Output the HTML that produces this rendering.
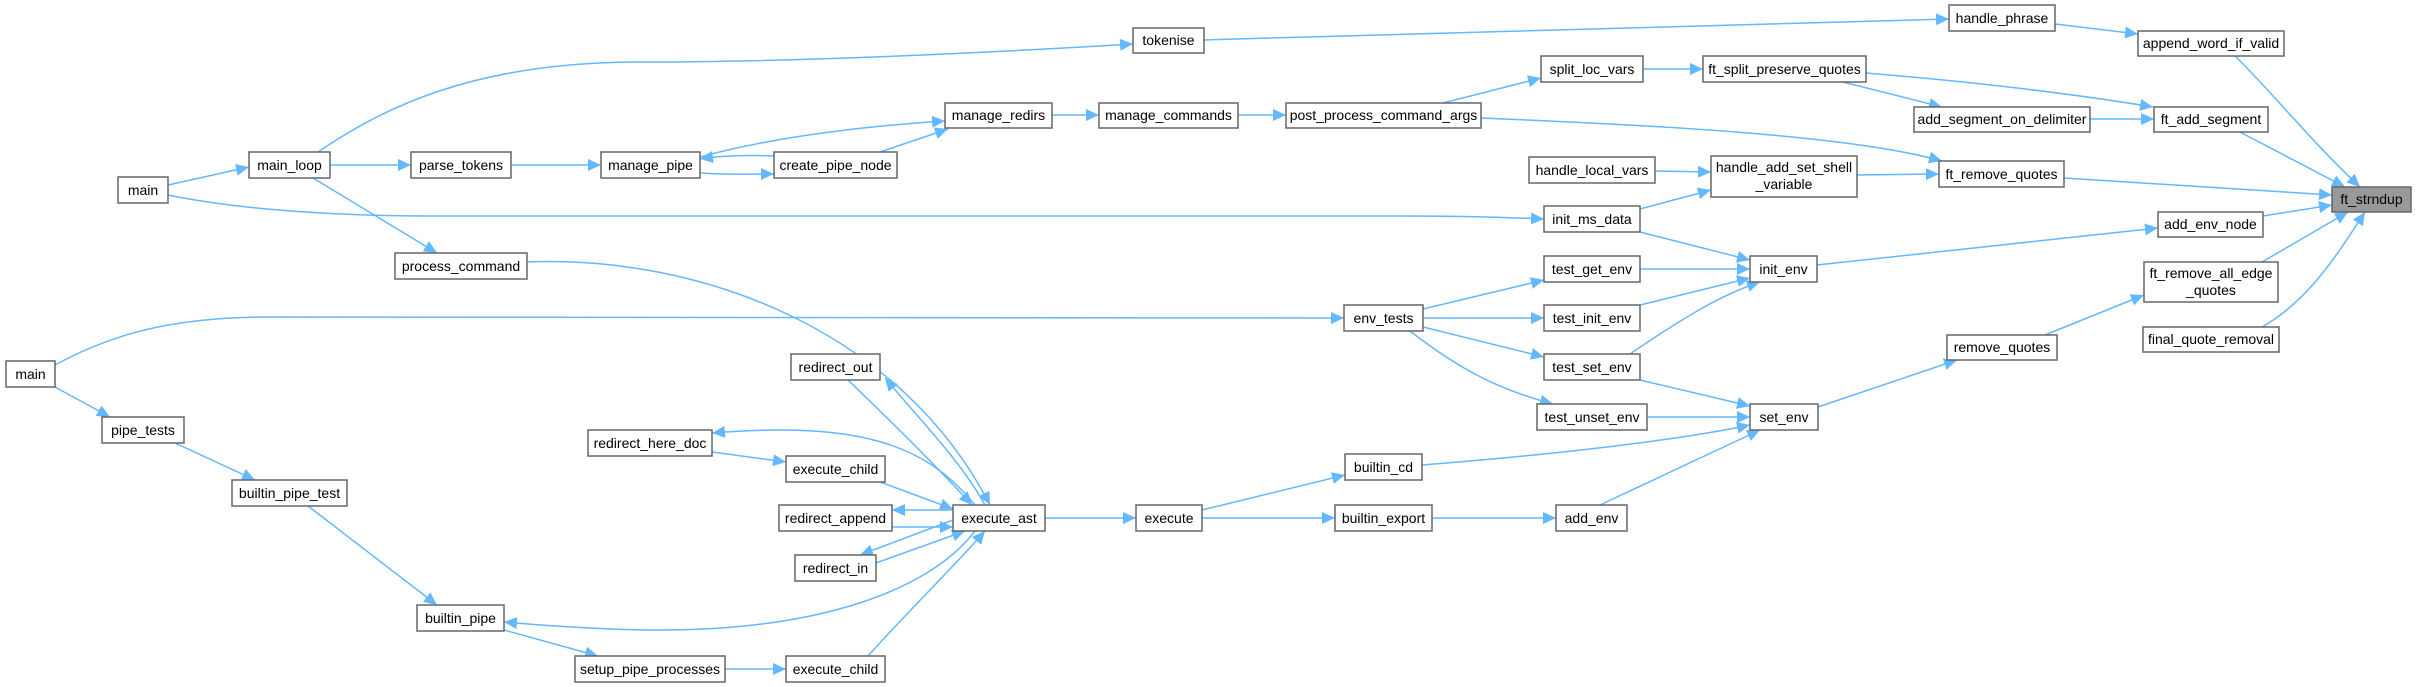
<!DOCTYPE html>
<html><head><meta charset="utf-8"><style>
html,body{margin:0;padding:0;background:#fff;}
svg{display:block;}
text{font-family:"Liberation Sans",Arial,sans-serif;font-size:14px;fill:#000;}
.n{fill:#fff;stroke:#666;stroke-width:1.5;}
.e{fill:none;stroke:#63b8ff;stroke-width:1.5;}
</style></head><body>
<svg width="2417" height="687" viewBox="0 0 2417 687" xmlns="http://www.w3.org/2000/svg">
<defs><marker id="a" markerUnits="userSpaceOnUse" markerWidth="14" markerHeight="12" refX="13" refY="6" orient="auto"><path d="M0,0 L13,6 L0,12 z" fill="#63b8ff"/></marker></defs>
<g class="e" marker-end="url(#a)">
<path d="M168,185 L249,167"/>
<path d="M168,195 C250,212 360,216 430,216 L1400,216 C1480,216 1520,218 1544,219"/>
<path d="M330,165 L411,165"/>
<path d="M318,152 C380,110 470,62 640,62 C800,62 1000,52 1133,44"/>
<path d="M313,178 L437,253"/>
<path d="M511,165 L601,165"/>
<path d="M700,173 C730,175 750,174 774,174"/>
<path d="M774,156 C750,155 725,155 700,159"/>
<path d="M700,157 C780,135 880,125 945,121"/>
<path d="M880,152 L948,129"/>
<path d="M1052,115 L1099,115"/>
<path d="M1238,115 L1286,115"/>
<path d="M1443,103 L1541,78"/>
<path d="M1481,118 C1650,125 1850,135 1942,161"/>
<path d="M1204,40 C1500,30 1800,22 1949,19"/>
<path d="M2055,24 L2138,34"/>
<path d="M2235,56 C2270,90 2310,140 2360,187"/>
<path d="M1643,69 L1703,69"/>
<path d="M1843,82 L1942,107"/>
<path d="M1866,73 C1950,80 2050,90 2153,107"/>
<path d="M2090,119 L2154,119"/>
<path d="M2240,132 L2345,187"/>
<path d="M1655,171 L1711,172"/>
<path d="M1640,209 L1711,190"/>
<path d="M1857,175 L1939,174"/>
<path d="M2064,178 L2332,195"/>
<path d="M1640,232 L1750,260"/>
<path d="M1640,269 L1750,269"/>
<path d="M1640,305 L1750,278"/>
<path d="M1630,354 C1680,320 1720,295 1760,282"/>
<path d="M1817,265 L2158,228"/>
<path d="M2263,216 L2332,205"/>
<path d="M2262,262 L2348,212"/>
<path d="M2262,327 C2310,300 2340,250 2365,212"/>
<path d="M2045,335 L2144,295"/>
<path d="M1818,407 L1957,360"/>
<path d="M1640,380 L1750,406"/>
<path d="M1647,417 L1750,417"/>
<path d="M1422,465 C1550,455 1680,440 1750,425"/>
<path d="M1600,505 L1760,430"/>
<path d="M1423,309 L1544,280"/>
<path d="M1423,318 L1544,318"/>
<path d="M1423,327 L1544,357"/>
<path d="M1410,331 C1460,370 1500,390 1553,404"/>
<path d="M55,365 C110,335 170,317 270,317 L1344,318"/>
<path d="M55,387 L110,417"/>
<path d="M175,443 L255,480"/>
<path d="M308,506 L437,605"/>
<path d="M504,630 L598,656"/>
<path d="M725,669 L786,669"/>
<path d="M868,656 C900,620 960,560 985,531"/>
<path d="M975,531 C930,590 820,630 660,630 C600,630 540,625 504,622"/>
<path d="M527,262 C700,255 900,330 990,505"/>
<path d="M848,380 C900,430 940,470 972,505"/>
<path d="M985,505 C960,460 920,420 885,378"/>
<path d="M975,505 C930,450 870,420 712,433"/>
<path d="M712,452 L786,462"/>
<path d="M880,482 L953,509"/>
<path d="M953,510 L892,510"/>
<path d="M892,527 L953,527"/>
<path d="M953,520 L860,555"/>
<path d="M876,563 L965,531"/>
<path d="M1045,518 L1136,518"/>
<path d="M1202,510 L1345,475"/>
<path d="M1202,518 L1335,518"/>
<path d="M1432,518 L1556,518"/>
</g>
<g>
<rect class="n" x="118" y="177" width="50" height="26"/><text x="143" y="195" text-anchor="middle">main</text>
<rect class="n" x="249" y="152" width="81" height="26"/><text x="289.5" y="170" text-anchor="middle">main_loop</text>
<rect class="n" x="411" y="152" width="100" height="26"/><text x="461" y="170" text-anchor="middle">parse_tokens</text>
<rect class="n" x="601" y="152" width="99" height="26"/><text x="650.5" y="170" text-anchor="middle">manage_pipe</text>
<rect class="n" x="395" y="253" width="132" height="26"/><text x="461" y="271" text-anchor="middle">process_command</text>
<rect class="n" x="774" y="152" width="123" height="26"/><text x="835.5" y="170" text-anchor="middle">create_pipe_node</text>
<rect class="n" x="1133" y="28" width="71" height="25"/><text x="1168.5" y="45" text-anchor="middle">tokenise</text>
<rect class="n" x="945" y="103" width="107" height="25"/><text x="998.5" y="120" text-anchor="middle">manage_redirs</text>
<rect class="n" x="1099" y="103" width="139" height="25"/><text x="1168.5" y="120" text-anchor="middle">manage_commands</text>
<rect class="n" x="1286" y="103" width="195" height="25"/><text x="1383.5" y="120" text-anchor="middle">post_process_command_args</text>
<rect class="n" x="1541" y="56" width="102" height="26"/><text x="1592" y="74" text-anchor="middle">split_loc_vars</text>
<rect class="n" x="1529" y="157" width="126" height="26"/><text x="1592" y="175" text-anchor="middle">handle_local_vars</text>
<rect class="n" x="1544" y="206" width="96" height="26"/><text x="1592" y="224" text-anchor="middle">init_ms_data</text>
<rect class="n" x="1544" y="256" width="96" height="26"/><text x="1592" y="274" text-anchor="middle">test_get_env</text>
<rect class="n" x="1344" y="305" width="79" height="26"/><text x="1383.5" y="323" text-anchor="middle">env_tests</text>
<rect class="n" x="1544" y="305" width="96" height="26"/><text x="1592" y="323" text-anchor="middle">test_init_env</text>
<rect class="n" x="1949" y="5" width="106" height="26"/><text x="2002" y="23" text-anchor="middle">handle_phrase</text>
<rect class="n" x="2138" y="31" width="146" height="25"/><text x="2211" y="48" text-anchor="middle">append_word_if_valid</text>
<rect class="n" x="1703" y="56" width="163" height="26"/><text x="1784.5" y="74" text-anchor="middle">ft_split_preserve_quotes</text>
<rect class="n" x="1914" y="107" width="176" height="25"/><text x="2002" y="124" text-anchor="middle">add_segment_on_delimiter</text>
<rect class="n" x="2154" y="107" width="114" height="25"/><text x="2211" y="124" text-anchor="middle">ft_add_segment</text>
<rect class="n" x="1711" y="156" width="146" height="41"/><text x="1784" y="172" text-anchor="middle">handle_add_set_shell</text><text x="1784" y="189" text-anchor="middle">_variable</text>
<rect class="n" x="1939" y="161" width="125" height="26"/><text x="2001.5" y="179" text-anchor="middle">ft_remove_quotes</text>
<rect x="2332" y="187" width="79" height="25" fill="#999" stroke="#666" stroke-width="1.5"/><text x="2371.5" y="204" text-anchor="middle">ft_strndup</text>
<rect class="n" x="2158" y="212" width="105" height="25"/><text x="2210.5" y="229" text-anchor="middle">add_env_node</text>
<rect class="n" x="1750" y="256" width="67" height="26"/><text x="1783.5" y="274" text-anchor="middle">init_env</text>
<rect class="n" x="2144" y="262" width="134" height="40"/><text x="2211" y="278" text-anchor="middle">ft_remove_all_edge</text><text x="2211" y="295" text-anchor="middle">_quotes</text>
<rect class="n" x="2143" y="327" width="136" height="25"/><text x="2211" y="344" text-anchor="middle">final_quote_removal</text>
<rect class="n" x="1947" y="335" width="110" height="25"/><text x="2002" y="352" text-anchor="middle">remove_quotes</text>
<rect class="n" x="1544" y="354" width="96" height="26"/><text x="1592" y="372" text-anchor="middle">test_set_env</text>
<rect class="n" x="1537" y="404" width="110" height="26"/><text x="1592" y="422" text-anchor="middle">test_unset_env</text>
<rect class="n" x="1750" y="404" width="68" height="26"/><text x="1784" y="422" text-anchor="middle">set_env</text>
<rect class="n" x="1345" y="454" width="77" height="26"/><text x="1383.5" y="472" text-anchor="middle">builtin_cd</text>
<rect class="n" x="1136" y="505" width="66" height="26"/><text x="1169" y="523" text-anchor="middle">execute</text>
<rect class="n" x="1335" y="505" width="97" height="26"/><text x="1383.5" y="523" text-anchor="middle">builtin_export</text>
<rect class="n" x="1556" y="505" width="71" height="26"/><text x="1591.5" y="523" text-anchor="middle">add_env</text>
<rect class="n" x="6" y="361" width="49" height="26"/><text x="30.5" y="379" text-anchor="middle">main</text>
<rect class="n" x="102" y="417" width="82" height="26"/><text x="143" y="435" text-anchor="middle">pipe_tests</text>
<rect class="n" x="232" y="480" width="115" height="26"/><text x="289.5" y="498" text-anchor="middle">builtin_pipe_test</text>
<rect class="n" x="417" y="605" width="87" height="26"/><text x="460.5" y="623" text-anchor="middle">builtin_pipe</text>
<rect class="n" x="575" y="656" width="150" height="26"/><text x="650" y="674" text-anchor="middle">setup_pipe_processes</text>
<rect class="n" x="786" y="656" width="99" height="26"/><text x="835.5" y="674" text-anchor="middle">execute_child</text>
<rect class="n" x="791" y="354" width="89" height="26"/><text x="835.5" y="372" text-anchor="middle">redirect_out</text>
<rect class="n" x="588" y="430" width="124" height="26"/><text x="650" y="448" text-anchor="middle">redirect_here_doc</text>
<rect class="n" x="786" y="456" width="99" height="26"/><text x="835.5" y="474" text-anchor="middle">execute_child</text>
<rect class="n" x="779" y="505" width="113" height="26"/><text x="835.5" y="523" text-anchor="middle">redirect_append</text>
<rect class="n" x="953" y="505" width="92" height="26"/><text x="999" y="523" text-anchor="middle">execute_ast</text>
<rect class="n" x="795" y="555" width="81" height="26"/><text x="835.5" y="573" text-anchor="middle">redirect_in</text>
</g>
</svg>
</body></html>
